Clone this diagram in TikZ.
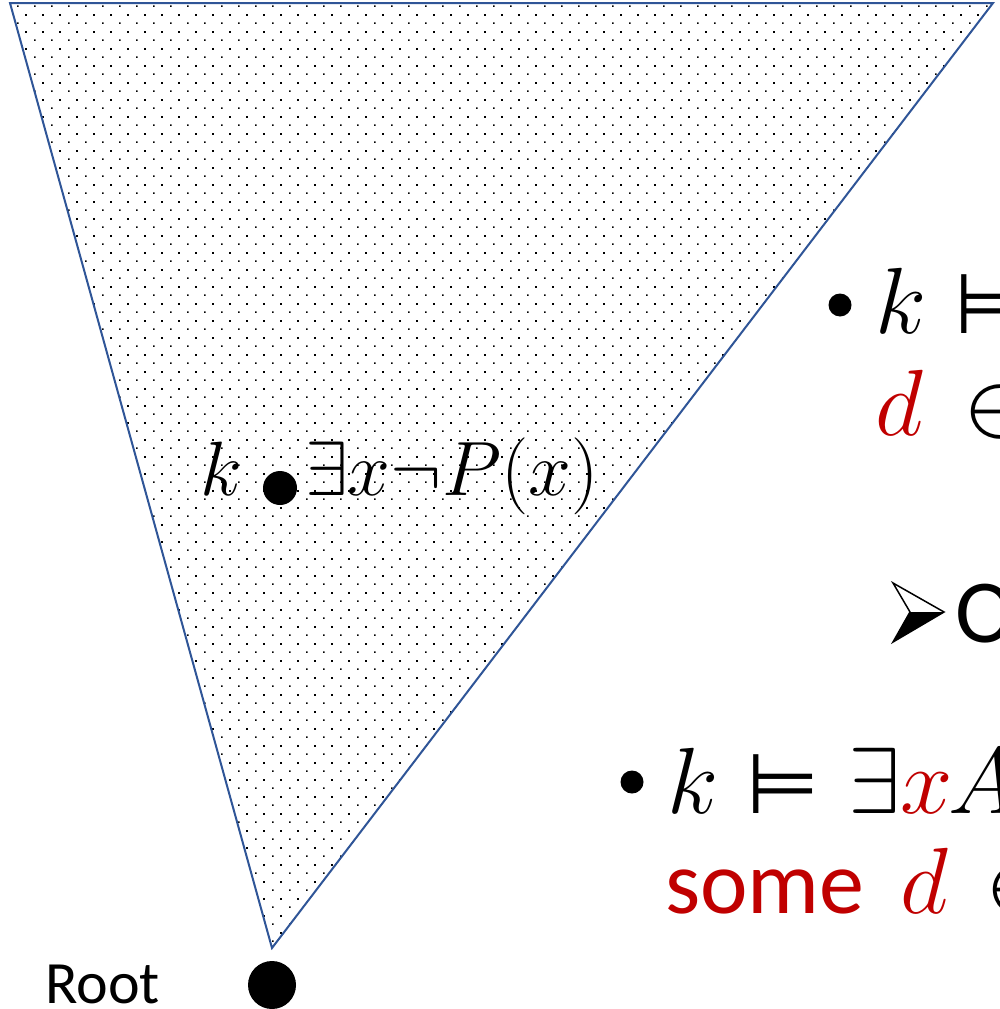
\RequirePackage{fix-cm}
\documentclass[tikz,border=0pt]{standalone}
\usepackage{fontspec}
\setmainfont{Carlito}
\newfontfamily\symfont{DejaVu Sans}
\usetikzlibrary{patterns.meta}
\definecolor{treeblue}{RGB}{47,85,151}
\definecolor{slidered}{RGB}{192,0,0}

% staggered dot fill of the tree
\tikzdeclarepattern{
  name=slidedots,
  type=uncolored,
  bounding box={(0pt,0pt) and (16.7pt,16.7pt)},
  tile size={(16.7pt,16.7pt)},
  code={
    \pgfpathrectangle{\pgfpoint{0pt}{0pt}}{\pgfpoint{1.6pt}{1.6pt}}
    \pgfpathrectangle{\pgfpoint{8.35pt}{8.35pt}}{\pgfpoint{1.6pt}{1.6pt}}
    \pgfusepath{fill}
  }
}

\tikzset{
  bigtxt/.style={font=\fontsize{94}{100}\selectfont, anchor=base west, inner sep=0pt},
  wordtxt/.style={font=\fontsize{90}{100}\selectfont, anchor=base west, inner sep=0pt},
  forcetxt/.style={font=\symfont\fontsize{84}{90}\selectfont, anchor=base west, inner sep=0pt},
  midtxt/.style={font=\fontsize{77}{80}\selectfont, inner sep=0pt},
  hl/.style={text=slidered},
  worlddot/.style={circle, fill=black, inner sep=0pt},
  bulletdot/.style={circle, fill=black, inner sep=0pt, minimum size=23pt}
}

\begin{document}
\begin{tikzpicture}[x=1pt,y=-1pt]
\useasboundingbox (0,0) rectangle (999,1009);
\clip (0,0) rectangle (999,1009);

% ── Tree (cone above the root) ───────────────────────────────────────────────
\coordinate (tl) at (10,3);
\coordinate (tr) at (993,3);
\coordinate (apex) at (272,948);
\draw[treeblue, line width=2pt, pattern=slidedots, pattern color=black]
     (tl) -- (tr) -- (apex) -- cycle;

% World k inside the tree
\node[worlddot, minimum size=34pt] (k) at (280,488) {};
\node[midtxt, anchor=base east] (klab) at (242,495) {$k$};
\node[midtxt, anchor=base west] (kform) at (305,495) {$\exists x\neg P(x)$};

% Root
\node[worlddot, minimum size=48pt] (root) at (272,985) {};
\node[font=\fontsize{60}{64}\selectfont, anchor=base west, inner sep=0pt]
     (rootlab) at (45,1003) {Root};

% ── Forcing clauses (cut at the right edge) ──────────────────────────────────
\node[bulletdot] (b1) at (840,305) {};
\node[bigtxt] (k1) at (875,333) {$k$};
\node[forcetxt] (m1) at (954,333) {⊨};
\node[bigtxt, hl] (d1) at (875,435) {$d$};
\node[bigtxt] (in1) at (963,435) {$\in$};

% sub-point arrow
\coordinate (atop) at (893,583);
\coordinate (atip) at (944,612);
\coordinate (abot) at (893,642);
\coordinate (anotch) at (910,612);
\fill (anotch) -- (atip) -- (abot) -- cycle;
\draw[line width=1.5pt, line join=miter] (anotch) -- (atop) -- (atip) -- (abot) -- cycle;
\node[wordtxt] (o1) at (955,642) {O};

\node[bulletdot] (b2) at (632,782) {};
\node[bigtxt] (k2) at (667,813) {$k$};
\node[forcetxt] (m2) at (746,813) {⊨};
\node[bigtxt] (ex2) at (848,813) {$\exists$};
\node[bigtxt, hl] (x2) at (900,813) {$x$};
\node[bigtxt] (a2) at (948,813) {$A$};
\node[wordtxt, hl] (some2) at (665,913) {some};
\node[bigtxt, hl] (d2) at (900,913) {$d$};
\node[bigtxt] (in2) at (985,913) {$\in$};

\end{tikzpicture}
\end{document}
